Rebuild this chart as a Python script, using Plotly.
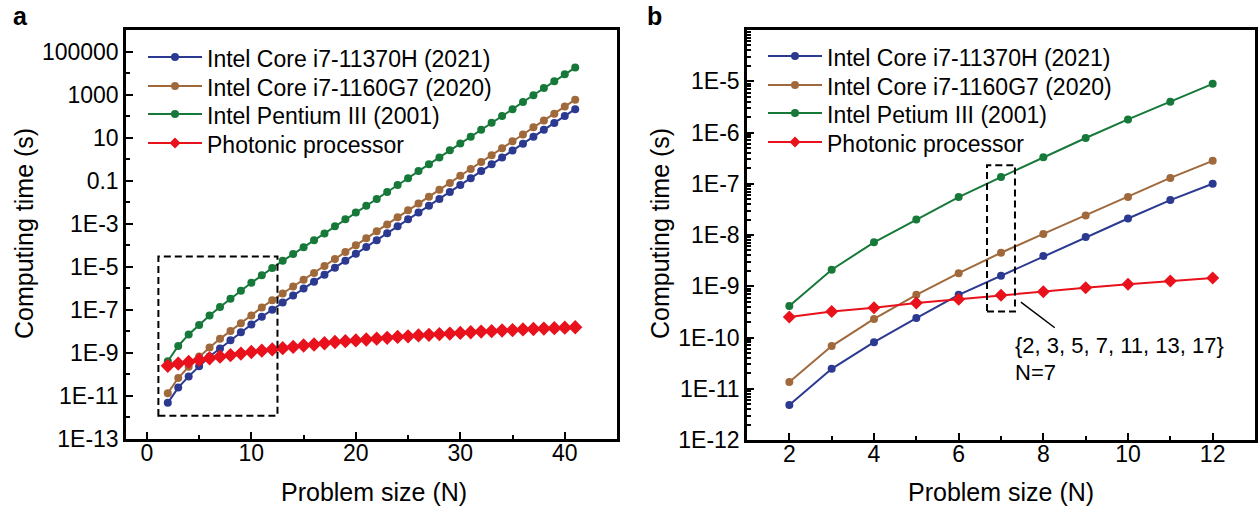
import plotly.graph_objects as go

# ---------------- data ----------------
N = list(range(2, 42))

core_11370h = [4.8e-12, 2.45e-11, 8.1e-11, 2.4e-10, 6.8e-10, 1.6e-9, 3.9e-9, 9.1e-9, 2.1e-8, 4.8e-8,
               1.0e-7, 2.2e-7, 4.6e-7, 9.8e-7, 2.0e-6, 4.3e-6, 9.1e-6, 1.9e-5, 4.0e-5, 8.3e-5,
               1.7e-4, 3.6e-4, 7.6e-4, 1.6e-3, 3.3e-3, 6.9e-3, 1.4e-2, 3.0e-2, 6.3e-2, 0.13,
               0.28, 0.58, 1.2, 2.5, 5.2, 11, 23, 48, 100, 210]

core_1160g7 = [1.35e-11, 6.8e-11, 2.3e-10, 6.8e-10, 1.8e-9, 4.5e-9, 1.05e-8, 2.4e-8, 5.5e-8, 1.3e-7,
               2.8e-7, 5.8e-7, 1.2e-6, 2.5e-6, 5.2e-6, 1.1e-5, 2.3e-5, 4.9e-5, 1.0e-4, 2.1e-4,
               4.5e-4, 9.3e-4, 2.0e-3, 4.2e-3, 8.7e-3, 1.8e-2, 3.8e-2, 7.9e-2, 0.17, 0.35,
               0.74, 1.5, 3.2, 6.8, 14, 30, 63, 130, 280, 580]

pentium3 = [4.1e-10, 2.1e-9, 7.2e-9, 2.0e-8, 5.5e-8, 1.35e-7, 3.3e-7, 7.8e-7, 1.8e-6, 4.0e-6,
            8.9e-6, 1.9e-5, 3.9e-5, 8.1e-5, 1.7e-4, 3.5e-4, 7.6e-4, 1.6e-3, 3.3e-3, 6.9e-3,
            1.4e-2, 3.0e-2, 6.3e-2, 0.13, 0.28, 0.58, 1.2, 2.6, 5.4, 11,
            23, 49, 100, 210, 450, 930, 2000, 4200, 8700, 18000]

photonic = [2.5e-10, 3.2e-10, 3.8e-10, 4.7e-10, 5.6e-10, 6.7e-10, 7.8e-10, 9.3e-10, 1.1e-9, 1.27e-9,
            1.45e-9, 1.66e-9, 1.9e-9, 2.2e-9, 2.45e-9, 2.8e-9, 3.2e-9, 3.5e-9, 3.8e-9, 4.2e-9,
            4.6e-9, 5.0e-9, 5.5e-9, 5.9e-9, 6.5e-9, 6.9e-9, 7.4e-9, 7.9e-9, 8.5e-9, 9.1e-9,
            9.8e-9, 1.02e-8, 1.1e-8, 1.15e-8, 1.23e-8, 1.29e-8, 1.35e-8, 1.41e-8, 1.48e-8, 1.55e-8]

names_a = ["Intel Core i7-11370H (2021)", "Intel Core i7-1160G7 (2020)",
           "Intel Pentium III (2001)", "Photonic processor"]
names_b = ["Intel Core i7-11370H (2021)", "Intel Core i7-1160G7 (2020)",
           "Intel Petium III (2001)", "Photonic processor"]

n_b_max = 12  # panel b shows N = 2..12

a_xticks = [0, 10, 20, 30, 40]
a_yticks = [1e5, 1e3, 10, 0.1, 1e-3, 1e-5, 1e-7, 1e-9, 1e-11, 1e-13]
a_yticktext = ["100000", "1000", "10", "0.1", "1E-3", "1E-5", "1E-7", "1E-9", "1E-11", "1E-13"]
a_yminor = [1e4, 1e2, 1, 1e-2, 1e-4, 1e-6, 1e-8, 1e-10, 1e-12]
b_xticks = [2, 4, 6, 8, 10, 12]
b_yticks = [1e-12, 1e-11, 1e-10, 1e-9, 1e-8, 1e-7, 1e-6, 1e-5]
b_yticktext = ["1E-12", "1E-11", "1E-10", "1E-9", "1E-8", "1E-7", "1E-6", "1E-5"]

x_title = "Problem size (N)"
y_title = "Computing time (s)"
annot_text = ["{2, 3, 5, 7, 11, 13, 17}", "N=7"]

# ---------------- style ----------------
FONT = "Liberation Sans, Arial, Helvetica, sans-serif"
colors = ["#2B3990", "#A0693C", "#16793A", "#E8111C"]
symbols = ["circle", "circle", "circle", "diamond"]
msizes_a = [8, 8, 8, 11]
msizes_b = [8, 8, 8, 10]
series = [core_11370h, core_1160g7, pentium3, photonic]

W, H = 1260, 510
def px_x(p):
    return p / W
def px_y(p):
    return 1 - p / H

fig = go.Figure()

for i, vals in enumerate(series):
    fig.add_trace(go.Scatter(
        x=N, y=vals, mode="lines+markers", name=names_a[i], showlegend=False,
        line=dict(color=colors[i], width=2),
        marker=dict(symbol=symbols[i], size=msizes_a[i], color=colors[i]),
        xaxis="x", yaxis="y"))

k = N.index(n_b_max) + 1
for i, vals in enumerate(series):
    fig.add_trace(go.Scatter(
        x=N[:k], y=vals[:k], mode="lines+markers", name=names_b[i], showlegend=False,
        line=dict(color=colors[i], width=2),
        marker=dict(symbol=symbols[i], size=msizes_b[i], color=colors[i]),
        xaxis="x2", yaxis="y2"))

axis_common = dict(showline=True, linecolor="black", linewidth=2.5, mirror=True,
                   ticks="inside", tickcolor="black", tickwidth=2, ticklen=7,
                   showgrid=False, zeroline=False, automargin=False,
                   tickfont=dict(family=FONT, size=23, color="black"))
minor_common = dict(ticks="inside", ticklen=4, tickwidth=2, tickcolor="black")

fig.update_layout(
    width=W, height=H, margin=dict(l=0, r=0, t=0, b=0, autoexpand=False),
    paper_bgcolor="white", plot_bgcolor="white",
    font=dict(family=FONT, color="black"),
    showlegend=False,
    xaxis=dict(domain=[px_x(126), px_x(617)], range=[-2, 45], anchor="y",
               tickvals=a_xticks, minor=dict(tickvals=[5, 15, 25, 35], **minor_common),
               ticklabelstandoff=-8, **axis_common),
    yaxis=dict(domain=[px_y(439), px_y(30)], type="log", range=[-13, 6], anchor="x",
               tickvals=a_yticks, ticktext=a_yticktext,
               minor=dict(tickvals=a_yminor, **minor_common),
               **axis_common),
    xaxis2=dict(domain=[px_x(747), px_x(1255)], range=[1, 13], anchor="y2",
                tickvals=b_xticks, minor=dict(tickvals=[3, 5, 7, 9, 11], **minor_common),
                ticklabelstandoff=-8, **axis_common),
    yaxis2=dict(domain=[px_y(440), px_y(30)], type="log", range=[-12, -4], anchor="x2",
                tickvals=b_yticks, ticktext=b_yticktext,
                minor=dict(dtick="D1", ticks="inside", ticklen=4, tickwidth=1.5, tickcolor="black"),
                **axis_common),
)

# axis titles
for (x, y) in [(374, 492), (1001, 492)]:
    fig.add_annotation(xref="paper", yref="paper", x=px_x(x), y=px_y(y), text=x_title,
                       showarrow=False, xanchor="center", yanchor="middle",
                       font=dict(family=FONT, size=25, color="black"))
for (x, y) in [(24, 234), (660, 234)]:
    fig.add_annotation(xref="paper", yref="paper", x=px_x(x), y=px_y(y), text=y_title,
                       showarrow=False, xanchor="center", yanchor="middle", textangle=-90,
                       font=dict(family=FONT, size=25, color="black"))

# manual legends (line + marker + text), positions in pixels
def add_legend(names, msizes, x_line0, x_line1, x_text, rows):
    for i, name in enumerate(names):
        yc = rows[i]
        fig.add_shape(type="line", xref="paper", yref="paper",
                      x0=px_x(x_line0), x1=px_x(x_line1), y0=px_y(yc), y1=px_y(yc),
                      line=dict(color=colors[i], width=2))
        xc = (x_line0 + x_line1) / 2
        if symbols[i] == "circle":
            r = msizes[i] / 2
            fig.add_shape(type="circle", xref="paper", yref="paper",
                          xsizemode="pixel", ysizemode="pixel",
                          xanchor=px_x(xc), yanchor=px_y(yc),
                          x0=-r, x1=r, y0=-r, y1=r,
                          fillcolor=colors[i], line=dict(color=colors[i], width=0))
        else:
            r = msizes[i] / 2 + 0.5
            fig.add_shape(type="path", xref="paper", yref="paper",
                          xsizemode="pixel", ysizemode="pixel",
                          xanchor=px_x(xc), yanchor=px_y(yc),
                          path=f"M {-r} 0 L 0 {r} L {r} 0 L 0 {-r} Z",
                          fillcolor=colors[i], line=dict(color=colors[i], width=0))
        fig.add_annotation(xref="paper", yref="paper", x=px_x(x_text), y=px_y(yc + 2),
                           text=name, showarrow=False, xanchor="left", yanchor="middle",
                           font=dict(family=FONT, size=23, color="black"))

add_legend(names_a, [8, 8, 8, 10], 148, 202, 205, [57, 86, 114, 143])
add_legend(names_b, [8, 8, 8, 10], 768, 822, 825, [56, 85, 113, 142])

# dashed zoom boxes (shape coords on log axes are data values)
fig.add_shape(type="rect", xref="x", yref="y", x0=1.1, x1=12.5, y0=1.2e-12, y1=3.0e-5,
              line=dict(color="black", width=2, dash="7px,4px"))
fig.add_shape(type="rect", xref="x2", yref="y2", x0=6.67, x1=7.33, y0=3.2e-10, y1=2.3e-7,
              line=dict(color="black", width=2, dash="7px,4px"))
fig.add_shape(type="line", xref="x2", yref="y2", x0=7.47, y0=4.9e-10, x1=8.27, y1=1.55e-10,
              line=dict(color="black", width=1.5))

fig.add_annotation(xref="x2", yref="y2", x=7.28, y=-10.15, text=annot_text[0], showarrow=False,
                   xanchor="left", yanchor="middle", font=dict(family=FONT, size=22, color="black"))
fig.add_annotation(xref="x2", yref="y2", x=7.28, y=-10.69, text=annot_text[1], showarrow=False,
                   xanchor="left", yanchor="middle", font=dict(family=FONT, size=22, color="black"))

# panel labels
fig.add_annotation(xref="paper", yref="paper", x=px_x(11), y=px_y(16), text="<b>a</b>", showarrow=False,
                   xanchor="left", yanchor="middle", font=dict(family=FONT, size=25, color="black"))
fig.add_annotation(xref="paper", yref="paper", x=px_x(645), y=px_y(16), text="<b>b</b>", showarrow=False,
                   xanchor="left", yanchor="middle", font=dict(family=FONT, size=25, color="black"))

fig.write_html("out.html")
